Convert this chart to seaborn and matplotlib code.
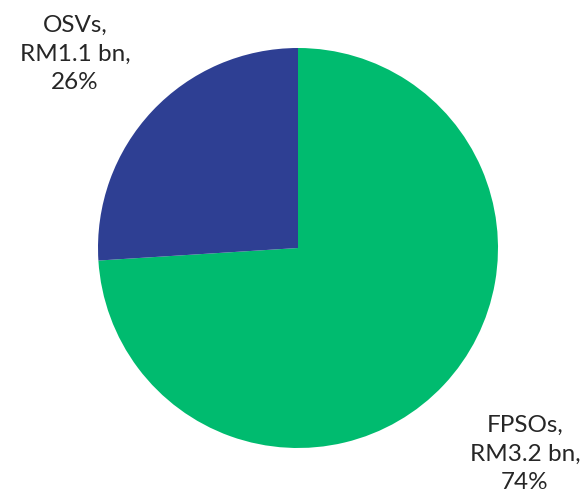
import matplotlib
matplotlib.use("Agg")
import matplotlib.pyplot as plt
import seaborn as sns

# Data
segments = ["FPSOs", "OSVs"]
values_bn = [3.2, 1.1]
shares = [74, 26]
colors = ["#00BB6F", "#2E3F93"]

sns.set_style("white")
plt.rcParams["font.family"] = ["Lato", "DejaVu Sans"]

fig = plt.figure(figsize=(5.83, 4.93), dpi=100)
ax = fig.add_axes([98 / 583, 45 / 493, 400 / 583, 400 / 493])

ax.pie(shares, colors=colors, startangle=90, counterclock=False,
       wedgeprops={"linewidth": 0})
ax.set_aspect("equal")
ax.set_xlim(-1, 1)
ax.set_ylim(-1, 1)

# Labels placed outside the slices
label_pos = {"FPSOs": (1.135, -1.03), "OSVs": (-1.115, 0.97)}
for name, val, pct in zip(segments, values_bn, shares):
    x, y = label_pos[name]
    ax.text(x, y, f"{name},\nRM{val} bn,\n{pct}%", ha="center", va="center",
            fontsize=17.5, linespacing=1.45, clip_on=False)

fig.savefig("out.png", dpi=100)
